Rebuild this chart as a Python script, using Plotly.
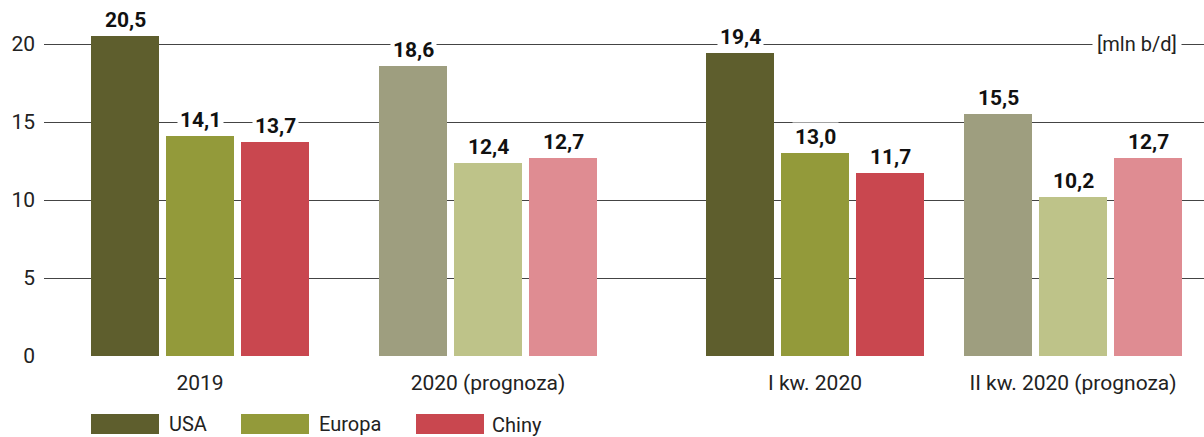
import plotly.graph_objects as go

# ---- data ----
categories = ["2019", "2020 (prognoza)", "I kw. 2020", "II kw. 2020 (prognoza)"]
usa = [20.5, 18.6, 19.4, 15.5]
europa = [14.1, 12.4, 13.0, 10.2]
chiny = [13.7, 12.7, 11.7, 12.7]
forecast = [False, True, False, True]
series_names = ["USA", "Europa", "Chiny"]
y_ticks = [0, 5, 10, 15, 20]
unit_label = "[mln b/d]"

# ---- layout / style ----
group_centers = [200, 488, 815, 1073]   # x positions (pixel-like units)
offsets = [-75, 0, 75]
bar_w = 68
colors_full = ["#5e5e2d", "#939a3a", "#c9474f"]
colors_light = ["#9e9e7f", "#bec389", "#df8c92"]
FONT = "Roboto"

fig = go.Figure()
annotations = []
for si, (name, vals) in enumerate(zip(series_names, [usa, europa, chiny])):
    xs = [c + offsets[si] for c in group_centers]
    cols = [colors_light[si] if f else colors_full[si] for f in forecast]
    fig.add_trace(go.Bar(x=xs, y=vals, width=bar_w, marker=dict(color=cols, line=dict(width=0)),
                         name=name, showlegend=False, hoverinfo="y"))
    for x, v in zip(xs, vals):
        annotations.append(dict(x=x, y=v, xref="x", yref="y", text=f"{v:.1f}".replace(".", ","),
                                showarrow=False, yanchor="bottom", yshift=1,
                                font=dict(family=FONT, size=21, color="#111111", weight="bold"),
                                bgcolor="white", borderpad=2))

annotations.append(dict(x=1137, y=20, xref="x", yref="y", text=unit_label, showarrow=False,
                        font=dict(family=FONT, size=20, color="#222222"),
                        bgcolor="white", borderpad=4))

# custom legend
plot_top, plot_bottom = 5, 356
def py(pix):
    return (plot_bottom - pix) / (plot_bottom - plot_top)

shapes = []
legend_x = [91, 241, 416]
text_x = [167, 317, 490]
text_y = [424, 424, 425]
for i, name in enumerate(series_names):
    shapes.append(dict(type="rect", xref="x", yref="paper", x0=legend_x[i], x1=legend_x[i] + 68,
                       y0=py(434), y1=py(414), fillcolor=colors_full[i], line=dict(width=0)))
    annotations.append(dict(x=text_x[i], y=py(text_y[i]), xref="x", yref="paper", text=name,
                            showarrow=False, xanchor="left", yanchor="middle",
                            font=dict(family=FONT, size=20, color="#222222")))

fig.update_layout(
    width=1204, height=437,
    margin=dict(l=44, r=0, t=plot_top, b=437 - plot_bottom),
    plot_bgcolor="white", paper_bgcolor="white",
    bargap=0,
    shapes=shapes,
    annotations=annotations,
    xaxis=dict(range=[44, 1204], tickvals=group_centers, ticktext=categories,
               showgrid=False, zeroline=False, showline=False, ticks="",
               tickfont=dict(family=FONT, size=21, color="#222222"), ticklabelstandoff=12),
    yaxis=dict(range=[0, (plot_bottom - plot_top) / 15.6], tickvals=y_ticks,
               showgrid=True, gridcolor="#444444", gridwidth=1.2, zeroline=False,
               showline=False, ticks="",
               tickfont=dict(family=FONT, size=21, color="#222222"), ticklabelstandoff=8),
)

fig.write_html("out.html")
